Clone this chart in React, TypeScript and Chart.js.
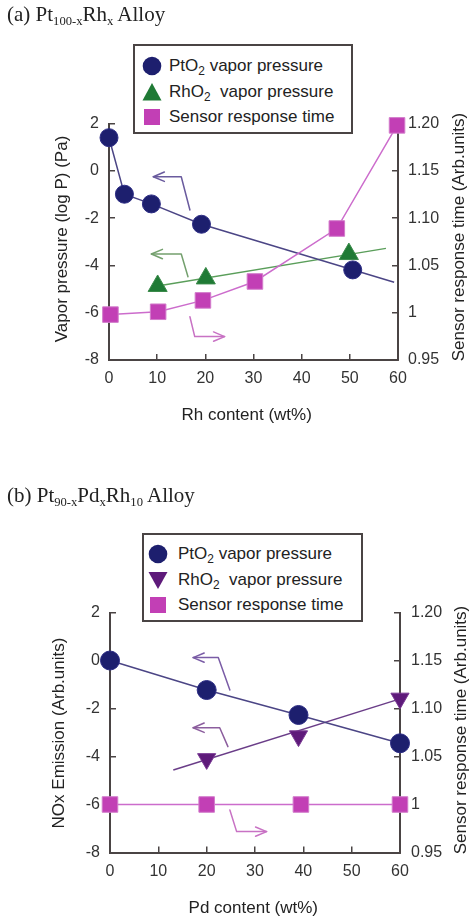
import React, { useEffect, useRef } from 'react';
import { Chart, registerables } from 'chart.js';

Chart.register(...registerables);

// ---------- (a) Pt100-xRhx Alloy ----------
const rhContentPtO2 = [0, 3.2, 8.8, 19.2, 50.6];
const ptO2VaporA = [1.4, -0.99, -1.4, -2.26, -4.19];
const rhContentPtO2Fit = [0, 3.2, 8.8, 19.2, 59.2];
const ptO2FitA = [1.4, -0.99, -1.4, -2.26, -4.71];
const rhContentRhO2 = [10.1, 20.1, 49.8];
const rhO2VaporA = [-4.87, -4.55, -3.52];
const rhContentRhO2Fit = [10.4, 57.5];
const rhO2FitA = [-4.86, -3.28];
const rhContentSensor = [0.3, 10.2, 19.5, 30.3, 47.3, 59.8];
const sensorTimeA = [0.998, 1.001, 1.013, 1.033, 1.089, 1.198];

// ---------- (b) Pt90-xPdxRh10 Alloy ----------
const pdContentPtO2 = [0, 20, 39, 60];
const ptO2EmissionB = [0, -1.23, -2.27, -3.45];
const pdContentRhO2 = [20, 39, 60];
const rhO2EmissionB = [-4.1, -3.15, -1.58];
const pdContentRhO2Fit = [13.1, 60];
const rhO2FitB = [-4.56, -1.6];
const pdContentSensor = [0, 20, 39.5, 60];
const sensorTimeB = [1.0, 1.0, 1.0, 1.0];

// ---------- axes ----------
const xTickValues = [0, 10, 20, 30, 40, 50, 60];
const leftTickValues = [-8, -6, -4, -2, 0, 2];
const rightTickValues = [0.95, 1.0, 1.05, 1.1, 1.15, 1.2];
const rightTickLabels = ['0.95', '1', '1.05', '1.10', '1.15', '1.20'];

// ---------- annotation arrows (data units of x / left y) ----------
const arrowsA = [
  { color: '#6a5b9e', path: [[16.8, -1.66], [15.0, -0.25], [9.2, -0.25]] },
  { color: '#74a06e', path: [[16.4, -4.48], [15.0, -3.52], [8.8, -3.52]] },
  { color: '#c872c4', path: [[16.8, -6.17], [17.8, -7.01], [24.0, -7.01]] },
];
const arrowsB = [
  { color: '#7a5ca6', path: [[24.8, -1.23], [22.4, 0.12], [17.2, 0.12]] },
  { color: '#8c5e9e', path: [[24.4, -3.59], [22.7, -2.8], [17.2, -2.8]] },
  { color: '#c872c4', path: [[24.8, -6.23], [26.2, -7.13], [32.4, -7.13]] },
];

const FONT = "'Liberation Sans', Arial, Helvetica, sans-serif";
const SERIF = "'Liberation Serif', 'Times New Roman', Times, serif";
const AXIS = '#4a4444';
const NAVY = '#1d1f6e';
const NAVY_LINE = '#4b4585';
const GREEN = '#1f7a35';
const GREEN_LINE = '#5a9e5a';
const MAGENTA = '#c23fb5';
const MAGENTA_LINE = '#cc6ccc';
const PURPLE = '#5e1a7a';
const PURPLE_LINE = '#6a3d88';

const pts = (xs: number[], ys: number[]) => xs.map((x, i) => ({ x, y: ys[i] }));

function arrowPlugin(arrows: { color: string; path: number[][] }[]) {
  return {
    id: 'arrows',
    beforeDatasetsDraw(chart: any) {
      const { ctx } = chart;
      const xs = chart.scales.x;
      const ys = chart.scales.y;
      ctx.save();
      ctx.lineWidth = 1.5;
      ctx.lineJoin = 'round';
      ctx.lineCap = 'round';
      arrows.forEach((a) => {
        const p = a.path.map(([vx, vy]) => [xs.getPixelForValue(vx), ys.getPixelForValue(vy)]);
        ctx.strokeStyle = a.color;
        ctx.beginPath();
        ctx.moveTo(p[0][0], p[0][1]);
        for (let i = 1; i < p.length; i++) ctx.lineTo(p[i][0], p[i][1]);
        ctx.stroke();
        const [tx, ty] = p[p.length - 1];
        const [qx, qy] = p[p.length - 2];
        const ang = Math.atan2(ty - qy, tx - qx);
        const len = 12;
        const spread = 0.4;
        ctx.beginPath();
        ctx.moveTo(tx - len * Math.cos(ang - spread), ty - len * Math.sin(ang - spread));
        ctx.lineTo(tx, ty);
        ctx.lineTo(tx - len * Math.cos(ang + spread), ty - len * Math.sin(ang + spread));
        ctx.stroke();
      });
      ctx.restore();
    },
  };
}

function makeScales(leftW: number, rightW: number, bottomH: number, rightPad: number) {
  const grid = { drawOnChartArea: false, drawTicks: true, tickLength: -6, color: AXIS, lineWidth: 1.5 };
  const border = { display: true, color: AXIS, width: 2 };
  const tickFont = { family: FONT, size: 16 };
  return {
    x: {
      type: 'linear',
      position: 'bottom',
      min: 0,
      max: 60,
      afterBuildTicks: (s: any) => { s.ticks = xTickValues.map((v) => ({ value: v })); },
      afterFit: (s: any) => { s.height = bottomH; },
      grid,
      border,
      ticks: { padding: 15, font: tickFont, color: '#333', callback: (v: any) => String(v) },
    },
    y: {
      type: 'linear',
      position: 'left',
      min: -8,
      max: 2,
      afterBuildTicks: (s: any) => { s.ticks = leftTickValues.map((v) => ({ value: v })); },
      afterFit: (s: any) => { s.width = leftW; },
      grid,
      border,
      ticks: { padding: 16, font: tickFont, color: '#333', callback: (v: any) => String(v) },
    },
    y1: {
      type: 'linear',
      position: 'right',
      min: 0.95,
      max: 1.2,
      afterBuildTicks: (s: any) => { s.ticks = rightTickValues.map((v) => ({ value: v })); },
      afterFit: (s: any) => { s.width = rightW; },
      grid,
      border,
      ticks: {
        padding: rightPad,
        font: tickFont,
        color: '#333',
        callback: (v: any) => {
          const i = rightTickValues.findIndex((t) => Math.abs(t - v) < 1e-6);
          return i >= 0 ? rightTickLabels[i] : '';
        },
      },
    },
  };
}

const baseOptions = (padTop: number, scales: any) => ({
  responsive: false,
  maintainAspectRatio: false,
  animation: false,
  layout: { padding: { top: padTop, left: 0, right: 0, bottom: 0 } },
  plugins: { legend: { display: false }, tooltip: { enabled: false }, title: { display: false } },
  scales,
});

function configA(): any {
  return {
    type: 'scatter',
    data: {
      datasets: [
        { label: 'PtO2 fit', data: pts(rhContentPtO2Fit, ptO2FitA), showLine: true, borderColor: NAVY_LINE, borderWidth: 1.5, pointRadius: 0, order: 3, clip: false },
        { label: 'RhO2 fit', data: pts(rhContentRhO2Fit, rhO2FitA), showLine: true, borderColor: GREEN_LINE, borderWidth: 1.5, pointRadius: 0, order: 3, clip: false },
        { label: 'Sensor response time', data: pts(rhContentSensor, sensorTimeA), yAxisID: 'y1', showLine: true, borderColor: MAGENTA_LINE, borderWidth: 1.5, pointStyle: 'rect', pointRadius: 11, backgroundColor: MAGENTA, pointBorderColor: '#d27ccb', pointBorderWidth: 1, order: 2, clip: false },
        { label: 'RhO2 vapor pressure', data: pts(rhContentRhO2, rhO2VaporA), showLine: false, pointStyle: 'triangle', pointRadius: 11, backgroundColor: GREEN, pointBorderColor: '#3a8a4a', pointBorderWidth: 1, order: 1, clip: false },
        { label: 'PtO2 vapor pressure', data: pts(rhContentPtO2, ptO2VaporA), showLine: false, pointStyle: 'circle', pointRadius: 9, backgroundColor: NAVY, pointBorderColor: '#2c2c84', pointBorderWidth: 1, order: 1, clip: false },
      ],
    },
    options: baseOptions(123.5, makeScales(109, 73, 80, 16)),
    plugins: [arrowPlugin(arrowsA)],
  };
}

function configB(): any {
  return {
    type: 'scatter',
    data: {
      datasets: [
        { label: 'PtO2 vapor pressure', data: pts(pdContentPtO2, ptO2EmissionB), showLine: true, borderColor: NAVY_LINE, borderWidth: 1.5, pointStyle: 'circle', pointRadius: 9.5, backgroundColor: NAVY, pointBorderColor: '#2c2c84', pointBorderWidth: 1, order: 1, clip: false },
        { label: 'RhO2 fit', data: pts(pdContentRhO2Fit, rhO2FitB), showLine: true, borderColor: PURPLE_LINE, borderWidth: 1.5, pointRadius: 0, order: 3, clip: false },
        { label: 'RhO2 vapor pressure', data: pts(pdContentRhO2, rhO2EmissionB), showLine: false, pointStyle: 'triangle', rotation: 180, pointRadius: 10.5, backgroundColor: PURPLE, pointBorderColor: '#7a3a94', pointBorderWidth: 1, order: 1, clip: false },
        { label: 'Sensor response time', data: pts(pdContentSensor, sensorTimeB), yAxisID: 'y1', showLine: true, borderColor: MAGENTA_LINE, borderWidth: 1.5, pointStyle: 'rect', pointRadius: 11, backgroundColor: MAGENTA, pointBorderColor: '#d27ccb', pointBorderWidth: 1, order: 2, clip: false },
      ],
    },
    options: baseOptions(172.5, makeScales(110, 71, 66.5, 17)),
    plugins: [arrowPlugin(arrowsB)],
  };
}

const textBase: React.CSSProperties = { position: 'absolute', fontFamily: FONT, fontSize: 17, color: '#222', whiteSpace: 'nowrap', lineHeight: '20px' };
const subStyle: React.CSSProperties = { fontSize: '0.6em', verticalAlign: '-0.3em', lineHeight: 0 };
const legSub: React.CSSProperties = { fontSize: '0.7em', verticalAlign: '-0.3em', lineHeight: 0 };

function Rotated({ cx, cy, children }: { cx: number; cy: number; children: React.ReactNode }) {
  return (
    <div style={{ ...textBase, left: cx, top: cy, transform: 'translate(-50%, -50%) rotate(-90deg)' }}>{children}</div>
  );
}

function Centered({ cx, cy, children }: { cx: number; cy: number; children: React.ReactNode }) {
  return <div style={{ ...textBase, left: cx, top: cy, transform: 'translate(-50%, -50%)' }}>{children}</div>;
}

function Marker({ kind, color }: { kind: string; color: string }) {
  if (kind === 'circle') return <circle cx={10} cy={10} r={9.3} fill={color} />;
  if (kind === 'tri') return <polygon points="10,1 19.5,18.5 0.5,18.5" fill={color} />;
  if (kind === 'tridown') return <polygon points="0.5,2 19.5,2 10,19" fill={color} />;
  return <rect x={2} y={2} width={16} height={16} fill={color} />;
}

type Row = { kind: string; color: string; label: React.ReactNode };

function Legend({ left, top, w, h, mx, tx, rowsY, rows }: { left: number; top: number; w: number; h: number; mx: number; tx: number; rowsY: number[]; rows: Row[] }) {
  return (
    <>
      <div style={{ position: 'absolute', left, top, width: w, height: h, border: `2px solid ${AXIS}`, background: '#fff', boxSizing: 'border-box' }} />
      {rows.map((r, i) => (
        <React.Fragment key={i}>
          <svg width={20} height={20} style={{ position: 'absolute', left: mx - 10, top: rowsY[i] - 10 }}>
            <Marker kind={r.kind} color={r.color} />
          </svg>
          <div style={{ ...textBase, left: tx, top: rowsY[i] - 10 }}>{r.label}</div>
        </React.Fragment>
      ))}
    </>
  );
}

export default function App() {
  const refA = useRef<HTMLCanvasElement>(null);
  const refB = useRef<HTMLCanvasElement>(null);

  useEffect(() => {
    const a = new Chart(refA.current as HTMLCanvasElement, configA());
    const b = new Chart(refB.current as HTMLCanvasElement, configB());
    return () => {
      a.destroy();
      b.destroy();
    };
  }, []);

  const titleStyle: React.CSSProperties = { position: 'absolute', left: 7, fontFamily: SERIF, fontSize: 21, lineHeight: '25px', color: '#222', whiteSpace: 'nowrap' };

  return (
    <div style={{ position: 'absolute', left: 0, top: 0, width: 471, height: 919, background: '#fff', overflow: 'hidden' }}>
      <canvas ref={refA} width={471} height={440} style={{ position: 'absolute', left: 0, top: 0, width: 471, height: 440 }} />
      <canvas ref={refB} width={471} height={479} style={{ position: 'absolute', left: 0, top: 440, width: 471, height: 479 }} />

      <div style={{ ...titleStyle, top: 2.4 }}>
        (a) Pt<sub style={subStyle}>100-x</sub>Rh<sub style={subStyle}>x</sub> Alloy
      </div>
      <div style={{ ...titleStyle, top: 483 }}>
        (b) Pt<sub style={subStyle}>90-x</sub>Pd<sub style={subStyle}>x</sub>Rh<sub style={subStyle}>10</sub> Alloy
      </div>

      <Rotated cx={61.5} cy={238.5}>Vapor pressure (log P) (Pa)</Rotated>
      <Rotated cx={459} cy={237}>Sensor response time (Arb.units)</Rotated>
      <Centered cx={246.7} cy={415}>Rh content (wt%)</Centered>

      <Rotated cx={59} cy={733}>NOx Emission (Arb.units)</Rotated>
      <Rotated cx={461} cy={730}>Sensor response time (Arb.units)</Rotated>
      <Centered cx={253.3} cy={908}>Pd content (wt%)</Centered>

      <Legend
        left={133}
        top={44}
        w={220}
        h={90}
        mx={152}
        tx={169}
        rowsY={[65.5, 91.5, 117]}
        rows={[
          { kind: 'circle', color: NAVY, label: <>PtO<sub style={legSub}>2</sub> vapor pressure</> },
          { kind: 'tri', color: GREEN, label: <>RhO<sub style={legSub}>2</sub>&nbsp; vapor pressure</> },
          { kind: 'rect', color: MAGENTA, label: 'Sensor response time' },
        ]}
      />
      <Legend
        left={142}
        top={533}
        w={221}
        h={89}
        mx={158}
        tx={178}
        rowsY={[554, 579.5, 605]}
        rows={[
          { kind: 'circle', color: NAVY, label: <>PtO<sub style={legSub}>2</sub> vapor pressure</> },
          { kind: 'tridown', color: PURPLE, label: <>RhO<sub style={legSub}>2</sub>&nbsp; vapor pressure</> },
          { kind: 'rect', color: MAGENTA, label: 'Sensor response time' },
        ]}
      />
    </div>
  );
}
